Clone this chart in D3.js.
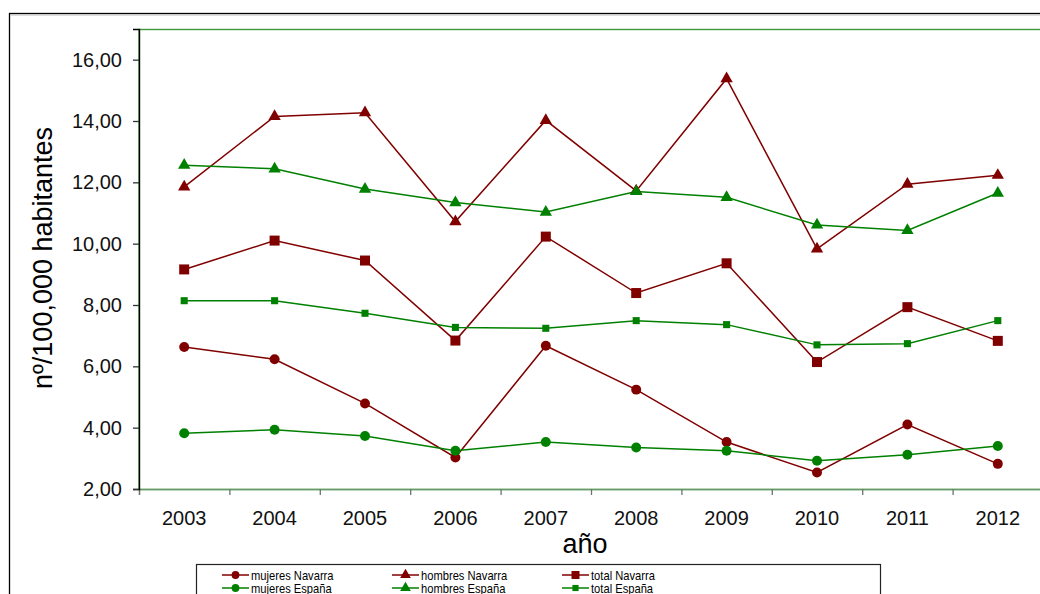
<!DOCTYPE html>
<html lang="es">
<head>
  <meta charset="UTF-8">
  <title>nº/100,000 habitantes por año</title>
  <style type="text/css">
    html, body { margin: 0; padding: 0; background: #fff; }
    svg { display: block; font-family: "Liberation Sans", Arial, sans-serif; }
  </style>
</head>
<body>
<figure id="chart" style="margin:0"></figure>
<script src="https://cdn.jsdelivr.net/npm/d3@7"></script>
<script type="text/javascript">
  // values
  var years = ["2003", "2004", "2005", "2006", "2007", "2008", "2009", "2010", "2011", "2012"];
  var mujeresNavarra = [6.63, 6.23, 4.79, 3.03, 6.67, 5.24, 3.53, 2.54, 4.10, 2.82];
  var hombresNavarra = [11.85, 14.15, 14.27, 10.72, 14.02, 11.72, 15.38, 9.83, 11.94, 12.23];
  var totalNavarra = [9.16, 10.10, 9.45, 6.84, 10.23, 8.39, 9.36, 6.14, 7.93, 6.83];
  var mujeresEspana = [3.82, 3.93, 3.73, 3.25, 3.53, 3.35, 3.25, 2.92, 3.12, 3.40];
  var hombresEspana = [12.56, 12.44, 11.78, 11.34, 11.03, 11.70, 11.51, 10.61, 10.43, 11.65];
  var totalEspana = [8.14, 8.14, 7.73, 7.27, 7.24, 7.49, 7.36, 6.70, 6.74, 7.49];
  var yTicks = [2, 4, 6, 8, 10, 12, 14, 16];

  var width = 1040, height = 594;
  var red = "#800000", green = "#008000";

  var series = [
    { name: "mujeres Navarra", values: mujeresNavarra, color: red, shape: d3.symbolCircle, size: 78, legendSize: 48 },
    { name: "hombres Navarra", values: hombresNavarra, color: red, shape: d3.symbolTriangle, size: 66, legendSize: 50 },
    { name: "total Navarra", values: totalNavarra, color: red, shape: d3.symbolSquare, size: 100, legendSize: 64 },
    { name: "mujeres España", values: mujeresEspana, color: green, shape: d3.symbolCircle, size: 78, legendSize: 48 },
    { name: "hombres España", values: hombresEspana, color: green, shape: d3.symbolTriangle, size: 66, legendSize: 50 },
    { name: "total España", values: totalEspana, color: green, shape: d3.symbolSquare, size: 50, legendSize: 38 }
  ];

  var svg = d3.select("#chart").append("svg")
    .attr("width", width)
    .attr("height", height);

  // outer frame (runs off the right and bottom)
  svg.append("rect")
    .attr("x", 9.5).attr("y", 13.5)
    .attr("width", 1100).attr("height", 700)
    .attr("fill", "#fff")
    .attr("stroke", "#000")
    .attr("stroke-width", 1.3);
  svg.append("line")
    .attr("x1", 10).attr("x2", width).attr("y1", 15).attr("y2", 15)
    .attr("stroke", "#bbb");

  var plotLeft = 139, plotTop = 29, plotBottom = 489, plotRight = 1043;

  var x = d3.scaleBand().domain(years).range([plotLeft, plotRight]);
  var xEdge = d3.scaleLinear().domain([0, years.length]).range([plotLeft, plotRight]);
  var y = d3.scaleLinear().domain([2, 17]).range([plotBottom, plotTop]);

  // plot area border (green on top)
  svg.append("rect")
    .attr("x", plotLeft).attr("y", plotTop + 0.5)
    .attr("width", plotRight - plotLeft + 5).attr("height", plotBottom - plotTop)
    .attr("fill", "#fff")
    .attr("stroke", "#3a9a3a")
    .attr("stroke-width", 1.4);

  // x axis: ticks at category edges, labels centered
  var xTicks = svg.append("g")
    .attr("transform", "translate(0," + plotBottom + ")")
    .call(d3.axisBottom(xEdge).tickValues(d3.range(0, years.length + 1)).tickSize(6).tickFormat(""));
  xTicks.select(".domain").attr("stroke", "#6a9a6a").attr("stroke-width", 1.4);
  xTicks.selectAll(".tick line").attr("stroke", "#707070").attr("stroke-width", 1.3);

  var xLabels = svg.append("g")
    .attr("transform", "translate(0," + plotBottom + ")")
    .call(d3.axisBottom(x).tickSize(0).tickPadding(22));
  xLabels.select(".domain").remove();
  xLabels.selectAll("text")
    .attr("font-size", 20)
    .attr("font-family", "Liberation Sans, Arial, sans-serif")
    .attr("fill", "#111");

  // y axis
  var yAxis = svg.append("g")
    .attr("transform", "translate(" + plotLeft + ",0)")
    .call(d3.axisLeft(y)
      .tickValues(yTicks)
      .tickSize(6)
      .tickPadding(11)
      .tickFormat(function (d) { return d3.format(".2f")(d).replace(".", ","); }));
  yAxis.select(".domain").attr("stroke", "#000").attr("stroke-width", 1.4);
  yAxis.selectAll(".tick line").attr("stroke", "#333").attr("stroke-width", 1.3);
  yAxis.selectAll("text")
    .attr("font-size", 20)
    .attr("font-family", "Liberation Sans, Arial, sans-serif")
    .attr("fill", "#111");

  // axis titles
  svg.append("text")
    .attr("transform", "translate(52,258) rotate(-90)")
    .attr("text-anchor", "middle")
    .attr("font-size", 27)
    .attr("fill", "#000")
    .text("nº/100,000 habitantes");

  svg.append("text")
    .attr("x", 585)
    .attr("y", 553)
    .attr("text-anchor", "middle")
    .attr("font-size", 27)
    .attr("fill", "#000")
    .text("año");

  // lines and markers
  var line = d3.line()
    .x(function (d, i) { return x(years[i]) + x.bandwidth() / 2; })
    .y(function (d) { return y(d); });

  series.forEach(function (s) {
    svg.append("path")
      .datum(s.values)
      .attr("fill", "none")
      .attr("stroke", s.color)
      .attr("stroke-width", 1.5)
      .attr("d", line);
  });

  series.forEach(function (s) {
    svg.append("g").selectAll("path")
      .data(s.values)
      .join("path")
      .attr("transform", function (d, i) {
        return "translate(" + (x(years[i]) + x.bandwidth() / 2) + "," + y(d) + ")";
      })
      .attr("d", d3.symbol().type(s.shape).size(s.size))
      .attr("fill", s.color);
  });

  // legend (box runs off the bottom edge, as in the original)
  var legend = svg.append("g");
  legend.append("rect")
    .attr("x", 196.5).attr("y", 564.5)
    .attr("width", 684).attr("height", 60)
    .attr("fill", "#fff")
    .attr("stroke", "#222")
    .attr("stroke-width", 1.2);

  var colX = [222, 392, 562];
  var rowY = [575, 588];

  series.forEach(function (s, k) {
    var cx = colX[k % 3], cy = rowY[Math.floor(k / 3)];
    var g = legend.append("g").attr("transform", "translate(" + cx + "," + cy + ")");
    g.append("line")
      .attr("x1", 0).attr("x2", 27)
      .attr("stroke", s.color).attr("stroke-width", 1.5);
    g.append("path")
      .attr("transform", "translate(13.5,0)")
      .attr("d", d3.symbol().type(s.shape).size(s.legendSize))
      .attr("fill", s.color);
    // narrow face is not installed, so squeeze the regular one a little
    g.append("text")
      .attr("transform", "translate(29,5) scale(0.86,1)")
      .attr("font-size", 13)
      .attr("fill", "#000")
      .text(s.name);
  });
</script>
</body>
</html>
